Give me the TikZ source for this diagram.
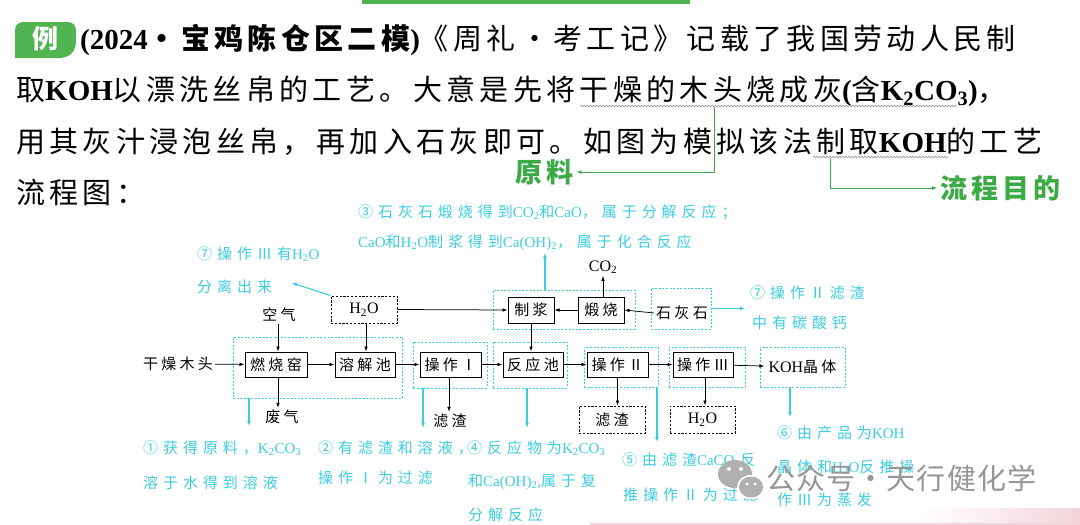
\documentclass[tikz,border=0pt]{standalone}
\usepackage{fontspec}
\setmainfont{Noto Sans CJK SC}
\newfontfamily\bodyf[LetterSpace=15]{Noto Sans CJK SC}
\newfontfamily\annf[LetterSpace=33]{Noto Sans CJK SC}
\newfontfamily\boxf[LetterSpace=22]{Noto Sans CJK SC}
\newfontfamily\latr{Liberation Serif}
\newfontfamily\wmf[LetterSpace=4]{Noto Sans CJK SC}
\usetikzlibrary{arrows.meta,decorations.pathmorphing}
\definecolor{cy}{RGB}{60,205,225}
\definecolor{gr}{RGB}{80,180,80}
\definecolor{grt}{RGB}{60,170,70}
\definecolor{wm}{RGB}{150,150,150}
\definecolor{pk}{RGB}{243,212,218}
\newcommand\la[1]{{\latr #1}}
\newcommand\lab[1]{{\latr\bfseries #1}}
\newcommand\sbs[1]{\textsubscript{#1}}
\begin{document}
\begin{tikzpicture}[x=1pt,y=-1pt,
 body/.style={anchor=west,inner sep=0pt,font=\bodyf\fontsize{29pt}{29pt}\selectfont},
 glab/.style={inner sep=3pt,text=grt,font=\bodyf\bfseries\fontsize{27pt}{27pt}\selectfont},
 ann/.style={anchor=west,inner sep=0pt,text=cy,font=\annf\fontsize{15pt}{15pt}\selectfont},
 proc/.style={draw,line width=1pt,inner sep=0pt,minimum height=25pt,font=\boxf\fontsize{15pt}{15pt}\selectfont},
 lbl/.style={inner sep=2pt,font=\boxf\fontsize{15pt}{15pt}\selectfont},
 cgrp/.style={draw=cy,line width=0.9pt,dash pattern=on 2pt off 1.6pt,inner sep=0pt},
 kgrp/.style={draw=black,line width=0.9pt,dash pattern=on 2.2pt off 1.6pt,inner sep=0pt,minimum height=27pt,font=\boxf\fontsize{15pt}{15pt}\selectfont},
 arr/.style={line width=0.75pt,-{Latex[length=5pt,width=3.6pt]}},
 carr/.style={draw=cy,line width=1.1pt,-{Latex[length=5pt,width=4pt]}},
 garr/.style={draw=grt,line width=0.9pt,-{Latex[length=5pt,width=4pt]}},
 wavy/.style={draw=gray!80,line width=0.6pt,decorate,decoration={snake,amplitude=0.9pt,segment length=3.2pt}},
]
\useasboundingbox (0,0) rectangle (1080,525);
\fill[white] (0,0) rectangle (1080,525);
% decorations
\fill[gr] (362,0) rectangle (690,4);
\shade[left color=white,right color=pk] (920,508) rectangle (1080,525);
\draw[pk,line width=1.5pt] (590,524.2) -- (1080,524.2);
% badge
\fill[gr] (76,40) .. controls (76,52) and (70,58) .. (58,58) -- (15,58) [rounded corners=8pt] -- (15,22) -- (76,22) [sharp corners] -- cycle;
\node[text=white,font=\bodyf\bfseries\fontsize{26pt}{26pt}\selectfont,inner sep=0pt] (badge) at (45,39) {例};
% body text
\node[body] (l1) at (80,40) {\lab{(2024}{\bfseries ・宝鸡陈仓区二模}\lab{)}《周礼・考工记》记载了我国劳动人民制};
\node[body] (l2) at (16,91) {取\lab{KOH}以漂洗丝帛的工艺。大意是先将干燥的木头烧成灰\lab{(}含\lab{K\sbs{2}CO\sbs{3})}，};
\node[body] (l3) at (16,142) {用其灰汁浸泡丝帛，再加入石灰即可。如图为模拟该法制取\lab{KOH}的工艺};
\node[body] (l4) at (16,192) {流程图：};
\draw[wavy] (580,106) -- (957,106);
\draw[wavy] (813,157) -- (948,157);
\node[glab,anchor=west] (yl) at (512,172) {原料};
\node[glab,anchor=west] (md) at (937,188) {流程目的};
\coordinate (u1) at (714,107);
\coordinate (u2) at (830,158);
\draw[garr] (u1) |- (yl.east);
\draw[garr] (u2) |- (md.west);
% cyan groups
\node[cgrp,minimum width=169pt,minimum height=61pt] (g1) at (317.5,367.5) {};
\node[cgrp,minimum width=74pt,minimum height=46pt] (g2) at (450,365) {};
\node[cgrp,minimum width=74pt,minimum height=46pt] (g3) at (530,365) {};
\node[cgrp,minimum width=74pt,minimum height=40pt] (g4) at (621,367) {};
\node[cgrp,minimum width=76pt,minimum height=40pt] (g5) at (707,367) {};
\node[cgrp,minimum width=85pt,minimum height=40pt] (g6) at (802.5,367) {};
\node[cgrp,minimum width=142pt,minimum height=39pt] (g7) at (564,309.5) {};
\node[cgrp,minimum width=60pt,minimum height=41pt] (g8) at (681,308.5) {};
% process boxes
\node[proc,minimum width=62pt] (burn) at (276,364.5) {燃烧窑};
\node[proc,minimum width=60pt] (diss) at (365,364.5) {溶解池};
\node[proc,minimum width=61pt] (op1) at (450.5,364.5) {操作Ⅰ};
\node[proc,minimum width=60pt] (react) at (533,364.5) {反应池};
\node[proc,minimum width=61pt] (op2) at (617.5,364.5) {操作Ⅱ};
\node[proc,minimum width=60pt] (op3) at (703,364.5) {操作Ⅲ};
\node[lbl,inner sep=4pt] (koh) at (802.5,367) {\la{\fontsize{16pt}{16pt}\selectfont KOH}晶体};
\node[proc,minimum width=46pt,minimum height=26pt] (zj) at (531,310) {制浆};
\node[proc,minimum width=46pt,minimum height=26pt] (ds) at (601,310) {煅烧};
\node[lbl] (shs) at (682,313) {石灰石};
\node[kgrp,minimum width=66pt] (h2oa) at (364,309.5) {\la{\fontsize{16pt}{16pt}\selectfont H\sbs{2}O}};
\node[kgrp,minimum width=66pt] (lz2) at (612,419.5) {滤渣};
\node[kgrp,minimum width=65pt] (h2ob) at (702.5,419.5) {\la{\fontsize{16pt}{16pt}\selectfont H\sbs{2}O}};
\node[lbl] (wood) at (178,364) {干燥木头};
\node[lbl] (air) at (279,315) {空气};
\node[lbl] (co2) at (603,267) {\la{\fontsize{16pt}{16pt}\selectfont CO\sbs{2}}};
\node[lbl] (waste) at (282,417) {废气};
\node[lbl] (lz1) at (450,421) {滤渣};
% black connectors
\draw[arr] (wood) -- (burn);
\draw[arr] (burn) -- (diss);
\draw[arr] (diss) -- (op1);
\draw[arr] (op1) -- (react);
\draw[arr] (react) -- (op2);
\draw[arr] (op2) -- (op3);
\draw[arr] (op3) -- (koh);
\draw[arr] (278,0 |- air.south) -- (278,0 |- burn.north);
\draw[arr] (366,0 |- h2oa.south) -- (366,0 |- diss.north);
\draw[arr] (h2oa.east) -- (zj.west);
\draw[arr] (shs.west) -- (ds.east);
\draw[arr] (ds.west) -- (zj.east);
\draw[arr] (ds.north -| co2.south) -- (co2.south);
\draw[arr] (zj.south) -- (zj.south |- react.north);
\draw[arr] (278,0 |- burn.south) -- (278,0 |- waste.north);
\draw[arr] (449,0 |- op1.south) -- (449,0 |- lz1.north);
\draw[arr] (op2.south) -- (op2.south |- lz2.north);
\draw[arr] (705,0 |- op3.south) -- (705,0 |- h2ob.north);
% cyan connectors
\coordinate (t1) at (249,426);
\coordinate (t2) at (423,428);
\coordinate (t4) at (527,428);
\coordinate (t5) at (657,442);
\coordinate (t6) at (790,417);
\coordinate (t3) at (545,253);
\coordinate (t7) at (745,308.5);
\coordinate (t8) at (292,283);
\draw[carr] (t1 |- g1.south) -- (t1);
\draw[carr] (t2 |- g2.south) -- (t2);
\draw[carr] (t4 |- g3.south) -- (t4);
\draw[carr] (t5 |- g4.south) -- (t5);
\draw[carr] (t6 |- g6.south) -- (t6);
\draw[carr] (t3 |- g7.north) -- (t3);
\draw[carr] (g8.east) -- (t7);
\draw[carr] (h2oa.north west) -- (t8);
% cyan annotations
\node[ann] (a3a) at (358,212) {③石灰石煅烧得到\la{CO\sbs{2}}和\la{CaO}，属于分解反应；};
\node[ann] (a3b) at (358,243) {\la{CaO}和\la{H\sbs{2}O}制浆得到\la{Ca(OH)\sbs{2}}，属于化合反应};
\node[ann] (a7a) at (197,254) {⑦操作Ⅲ有\la{H\sbs{2}O}};
\node[ann] (a7b) at (197,287) {分离出来};
\node[ann] (a7c) at (750,293) {⑦操作Ⅱ滤渣};
\node[ann] (a7d) at (752,323) {中有碳酸钙};
\node[ann] (a1a) at (143,448) {①获得原料，\la{K\sbs{2}CO\sbs{3}}};
\node[ann] (a1b) at (143,483) {溶于水得到溶液};
\node[ann] (a2a) at (318,448) {②有滤渣和溶液，};
\node[ann] (a2b) at (318,478) {操作Ⅰ为过滤};
\node[ann] (a4a) at (467,448) {④反应物为\la{K\sbs{2}CO\sbs{3}}};
\node[ann] (a4b) at (468,482) {和\la{Ca(OH)\sbs{2},}属于复};
\node[ann] (a4c) at (468,515) {分解反应};
\node[ann] (a5a) at (622,460) {⑤由滤渣\la{CaCO\sbs{3}}反};
\node[ann] (a5b) at (623,495) {推操作Ⅱ为过滤};
\node[ann] (a6a) at (777,433) {⑥由产品为\la{KOH}};
\node[ann] (a6b) at (777,467) {晶体和\la{H\sbs{2}O}反推操};
\node[ann] (a6c) at (777,500) {作Ⅲ为蒸发};
% watermark
\fill[wm!75] (735,474) ellipse [x radius=17pt,y radius=14pt];
\fill[white] (751,487) ellipse [x radius=14pt,y radius=12pt];
\fill[wm!75] (751,487) ellipse [x radius=12pt,y radius=10.5pt];
\fill[white] (729,469) circle [radius=2pt] (741,469) circle [radius=2pt] (747,484) circle [radius=1.6pt] (755,484) circle [radius=1.6pt];
\node[anchor=west,inner sep=0pt,text=wm,font=\wmf\fontsize{29pt}{29pt}\selectfont] (wmt) at (766,478) {公众号・天行健化学};
\end{tikzpicture}
\end{document}
